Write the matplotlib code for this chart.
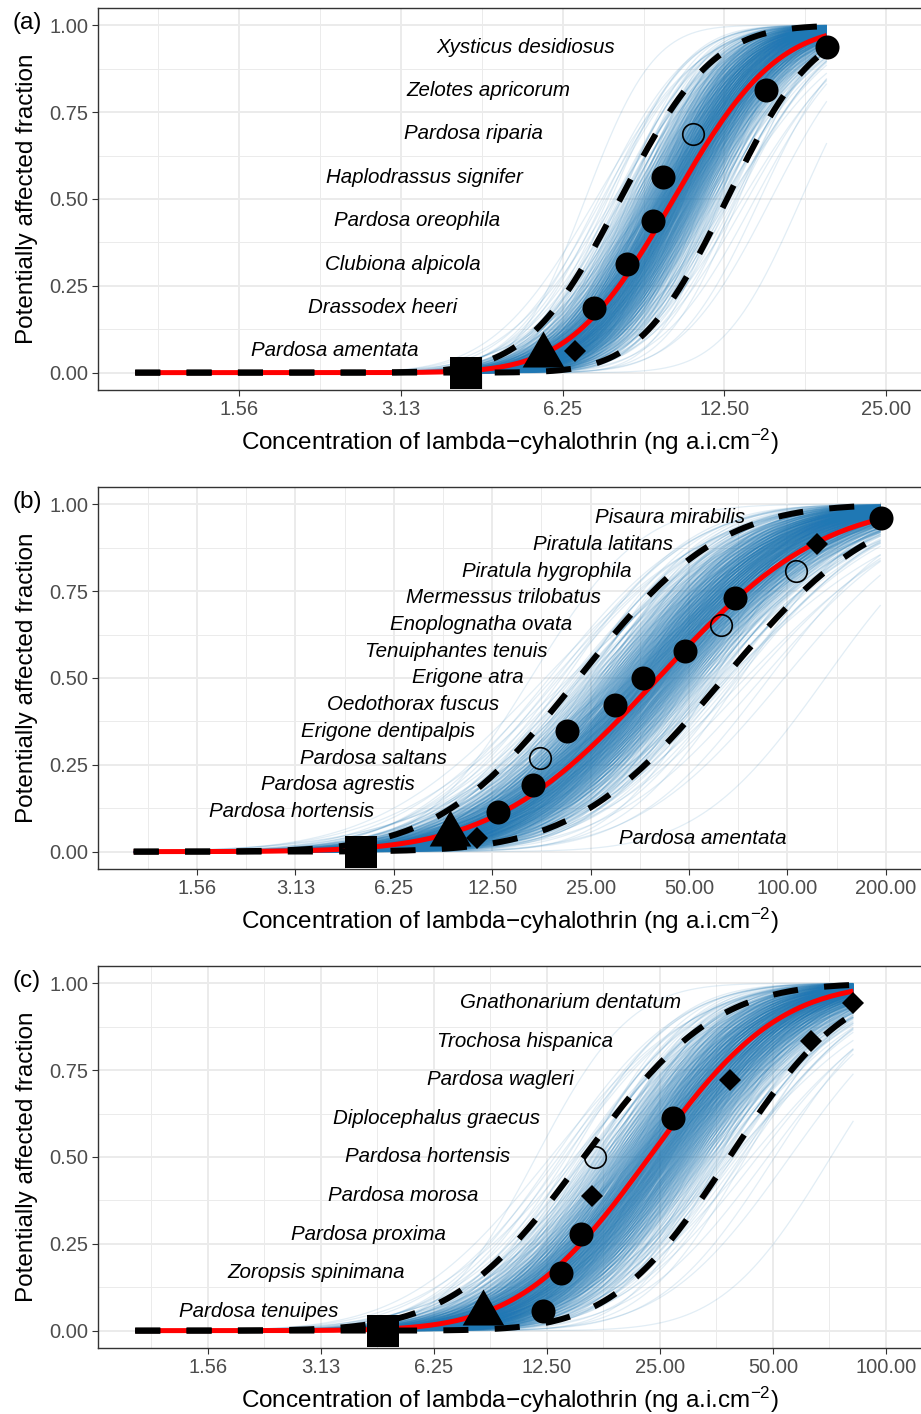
import numpy as np
import matplotlib
matplotlib.use("Agg")
import matplotlib.pyplot as plt
from matplotlib.collections import LineCollection
from matplotlib.ticker import NullFormatter
from statistics import NormalDist

plt.rcParams['font.family'] = ['Liberation Sans', 'DejaVu Sans']
plt.rcParams['mathtext.fontset'] = 'custom'
plt.rcParams['mathtext.rm'] = 'Liberation Sans'
plt.rcParams['mathtext.it'] = 'Liberation Sans:italic'

# ---------------- panel (a) ----------------
a_species = ["Pardosa amentata", "Drassodex heeri", "Clubiona alpicola", "Pardosa oreophila",
             "Haplodrassus signifer", "Pardosa riparia", "Zelotes apricorum", "Xysticus desidiosus"]
a_conc = [6.59, 7.15, 8.22, 9.22, 9.62, 10.94, 14.94, 19.39]
a_frac = [0.0625, 0.1875, 0.3125, 0.4375, 0.5625, 0.6875, 0.8125, 0.9375]
a_shape = ["diamond", "filled", "filled", "filled", "filled", "open", "filled", "filled"]
a_label_x = [3.37, 3.97, 4.39, 4.79, 5.28, 5.74, 6.45, 7.82]
a_hc5 = 5.74
a_square = 4.13
a_fit = [3.33, 0.50]       # log2 median, log2 sd
a_upper = [3.00, 0.45]
a_lower = [3.66, 0.42]
a_ticks = [1.5625, 3.125, 6.25, 12.5, 25]
a_ticklabels = ["1.56", "3.13", "6.25", "12.50", "25.00"]

# ---------------- panel (b) ----------------
b_species = ["Pardosa amentata", "Pardosa hortensis", "Pardosa agrestis", "Pardosa saltans",
             "Erigone dentipalpis", "Oedothorax fuscus", "Erigone atra", "Tenuiphantes tenuis",
             "Enoplognatha ovata", "Mermessus trilobatus", "Piratula hygrophila",
             "Piratula latitans", "Pisaura mirabilis"]
b_conc = [11.2, 13.04, 16.7, 17.5, 21.1, 29.7, 36.2, 48.6, 62.5, 69.1, 106.0, 123.4, 192.8]
b_frac = [0.0385, 0.1154, 0.1923, 0.2692, 0.3462, 0.4231, 0.5, 0.5769, 0.6538,
          0.7308, 0.8077, 0.8846, 0.9615]
b_shape = ["diamond", "filled", "filled", "open", "filled", "filled", "filled", "filled",
           "open", "filled", "open", "diamond", "filled"]
b_label_x = [99.5, 5.43, 7.25, 9.07, 11.07, 13.13, 15.55, 18.5, 22.0, 26.8, 33.4, 44.7, 74.1]
b_hc5 = 9.28
b_square = 4.97
b_fit = [5.33, 1.31]
b_upper = [4.52, 1.125]
b_lower = [6.00, 1.19]
b_ticks = [1.5625, 3.125, 6.25, 12.5, 25, 50, 100, 200]
b_ticklabels = ["1.56", "3.13", "6.25", "12.50", "25.00", "50.00", "100.00", "200.00"]

# ---------------- panel (c) ----------------
c_species = ["Pardosa tenuipes", "Zoropsis spinimana", "Pardosa proxima", "Pardosa morosa",
             "Pardosa hortensis", "Diplocephalus graecus", "Pardosa wagleri",
             "Trochosa hispanica", "Gnathonarium dentatum"]
c_conc = [12.18, 13.63, 15.37, 16.45, 16.79, 27.1, 38.4, 63.0, 81.9]
c_frac = [0.0556, 0.1667, 0.2778, 0.3889, 0.5, 0.6111, 0.7222, 0.8333, 0.9444]
c_shape = ["filled", "filled", "filled", "diamond", "open", "filled", "diamond", "diamond", "diamond"]
c_label_x = [3.48, 5.23, 6.73, 8.20, 9.96, 11.98, 14.69, 18.8, 28.4]
c_hc5 = 8.42
c_square = 4.56
c_fit = [4.55, 0.90]
c_upper = [3.97, 0.91]
c_lower = [5.26, 0.81]
c_ticks = [1.5625, 3.125, 6.25, 12.5, 25, 50, 100]
c_ticklabels = ["1.56", "3.13", "6.25", "12.50", "25.00", "50.00", "100.00"]

W, H = 921, 1414
ND = NormalDist()
cdf = np.vectorize(ND.cdf)

# triangle centred on its centroid, like R's pch 17
tri = [(0, 1.555), (1.347, -0.778), (-1.347, -0.778), (0, 1.555)]


def ssd(l2, fit):
    return cdf((l2 - fit[0]) / fit[1])


def boot_curves(l2, up, lo, n=600):
    # quasi-random (R2 sequence) set of parameter pairs spanning the CI band
    g = 1.32471795724
    i = np.arange(1, n + 1)
    p = (0.5 + i / g) % 1.0
    q = (0.5 + i / g ** 2) % 1.0
    mc = (up[0] + lo[0]) / 2
    hw = (lo[0] - up[0]) / 2
    sc = (up[1] + lo[1]) / 2
    zmu = np.log(p / (1 - p)) / 3.664 * hw
    zsd = np.array([ND.inv_cdf(v) for v in q])
    out = []
    for a, b in zip(zmu, zsd):
        out.append(cdf((l2 - mc - a) / (sc * np.exp(0.12 * b))))
    return out


def panel(top, bot, letter, species, conc, frac, shape, label_x, hc5, square,
          fit, up, lo, ticks, ticklabels, xlim):
    ax = fig.add_axes([98 / W, 1 - bot / H, (921 - 98) / W, (bot - top) / H])
    ax.set_xscale('log', base=2)

    l2 = np.linspace(0, np.log2(max(conc)), 160)
    x = 2 ** l2
    segs = [np.column_stack([x, yv]) for yv in boot_curves(l2, up, lo)]
    ax.add_collection(LineCollection(segs, colors='#1f78b4', linewidths=0.9, alpha=0.13, zorder=2))

    ax.plot(x, ssd(l2, fit), color='red', lw=3.6, zorder=3, solid_capstyle='butt')
    for ci in (up, lo):
        ax.plot(x, ssd(l2, ci), color='black', lw=4.3, linestyle=(0, (4.2, 4.4)),
                dash_capstyle='butt', zorder=4)

    for cx, fy, sh in zip(conc, frac, shape):
        if sh == "filled":
            ax.plot(cx, fy, 'o', ms=17.3, color='black', mew=0, zorder=5)
        elif sh == "open":
            ax.plot(cx, fy, 'o', ms=15.5, mfc='none', mec='black', mew=1.2, zorder=5)
        else:
            ax.plot(cx, fy, 'D', ms=11.3, color='black', mew=0, zorder=5)
    ax.plot(hc5, 0.05, marker=tri, ms=34.6, color='black', mew=0, zorder=5)
    ax.plot(square, 0.0, 's', ms=23, color='black', mew=0, zorder=5)

    for name, lx, fy in zip(species, label_x, frac):
        ax.text(lx, fy, name, ha='right', va='center', style='italic', fontsize=14.8,
                color='black', zorder=6)

    ax.set_xticks(ticks, ticklabels)
    l2t = np.log2(ticks)
    minors = 2 ** np.concatenate([[l2t[0] - 0.5], l2t + 0.5])
    ax.set_xticks(minors, minor=True)
    ax.xaxis.set_minor_formatter(NullFormatter())
    ax.set_yticks([0, 0.25, 0.5, 0.75, 1.0], ["0.00", "0.25", "0.50", "0.75", "1.00"])
    ax.set_yticks([0.125, 0.375, 0.625, 0.875], minor=True)
    ax.set_xlim(xlim)
    ax.set_ylim(-0.05, 1.05)
    ax.grid(which='major', color='#EBEBEB', lw=1.4, zorder=0)
    ax.grid(which='minor', color='#EBEBEB', lw=0.7, zorder=0)
    ax.set_axisbelow(True)
    ax.tick_params(which='major', length=4.5, width=0.8, color='#333333',
                   labelcolor='#4D4D4D', labelsize=14.5, pad=2.5)
    ax.tick_params(which='minor', length=0)
    for s in ax.spines.values():
        s.set_color('#333333')
        s.set_linewidth(1.0)
    ax.spines['right'].set_visible(False)

    y1 = top + (bot - top) * 0.05 / 1.1
    fig.text(27 / W, 1 - (y1 - 2) / H, letter, ha='center', va='center', fontsize=17.5)
    fig.text(27 / W, 1 - (top + bot) / 2 / H, "Potentially affected fraction",
             rotation=90, ha='center', va='center', fontsize=17.5)
    fig.text(509.5 / W, 1 - (bot + 60) / H,
             "Concentration of lambda\u2212cyhalothrin (ng a.i.cm$^{-2}$)",
             ha='center', va='baseline', fontsize=17.5)
    return ax


fig = plt.figure(figsize=(W / 100, H / 100), dpi=100)
panel(8, 390, "(a)", a_species, a_conc, a_frac, a_shape, a_label_x, a_hc5, a_square,
      a_fit, a_upper, a_lower, a_ticks, a_ticklabels, [0.8526, 29.04])
panel(487, 869, "(b)", b_species, b_conc, b_frac, b_shape, b_label_x, b_hc5, b_square,
      b_fit, b_upper, b_lower, b_ticks, b_ticklabels, [0.7776, 256.2])
panel(966, 1348, "(c)", c_species, c_conc, c_frac, c_shape, c_label_x, c_hc5, c_square,
      c_fit, c_upper, c_lower, c_ticks, c_ticklabels, [0.7960, 124.0])

fig.savefig("out.png", dpi=100)
